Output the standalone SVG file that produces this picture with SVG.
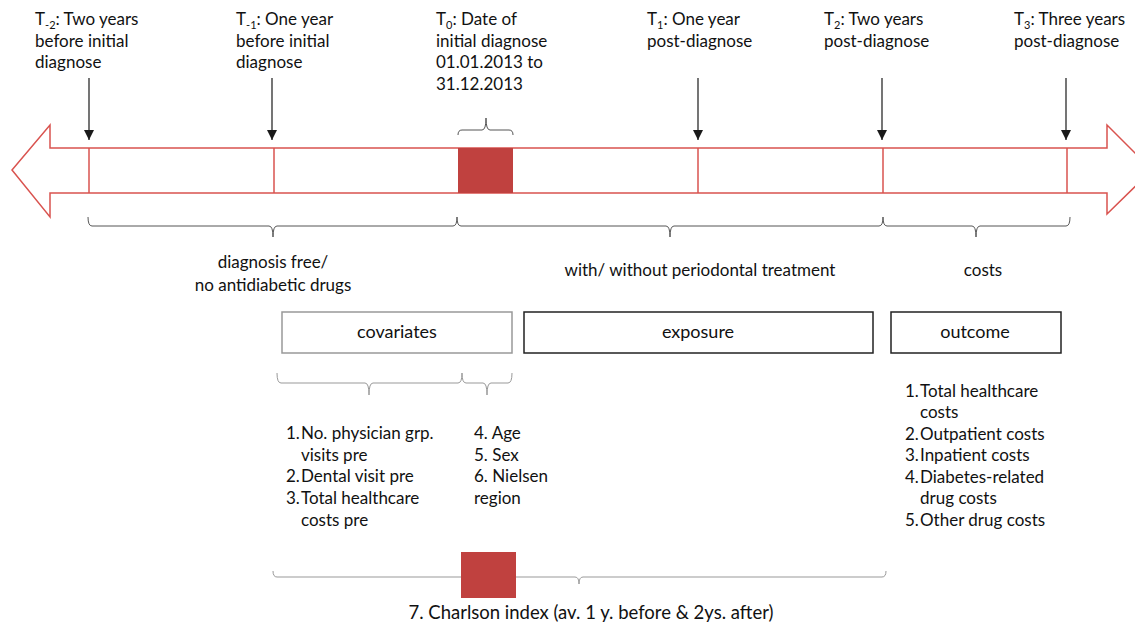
<svg xmlns="http://www.w3.org/2000/svg" width="1135" height="625" viewBox="0 0 1135 625">
<style>
text{font-family:Lato,"Open Sans","Liberation Sans",sans-serif;font-size:17px;fill:#111}
.mid{text-anchor:middle}
.big{font-size:18px}
.sub{font-size:11px}
.tl{fill:none;stroke:#d9534f;stroke-width:1.5}
.tick{stroke:#d9534f;stroke-width:1.5}
.red{fill:#c0413f}
.ptr{stroke:#1a1a1a;stroke-width:1.2;fill:none}
.brace{fill:none;stroke:#555;stroke-width:1}
.lbrace{fill:none;stroke:#999;stroke-width:1}
.box{fill:#fff;stroke:#222;stroke-width:1.5}
.gbox{fill:#fff;stroke:#999;stroke-width:1.5}
</style>
<defs>
<marker id="ah" viewBox="0 0 10 10" refX="10" refY="5" markerWidth="10" markerHeight="10" markerUnits="userSpaceOnUse" orient="auto">
<path d="M0,0 L10,5 L0,10 Z" fill="#1a1a1a"/>
</marker>
</defs>
<rect width="1135" height="625" fill="#fff"/>

<g id="timeline">
<path class="tl" d="M12,170 L50,125 L50,148 L1107,148 L1107,125 L1152,170 L1107,214 L1107,193 L50,193 L50,217 Z"/>
<line class="tick" x1="89" y1="148" x2="89" y2="193"/>
<line class="tick" x1="274" y1="148" x2="274" y2="193"/>
<line class="tick" x1="698" y1="148" x2="698" y2="193"/>
<line class="tick" x1="883" y1="148" x2="883" y2="193"/>
<line class="tick" x1="1067" y1="148" x2="1067" y2="193"/>
<rect class="red" x="458" y="148" width="55" height="45"/>
</g>

<g id="connectors">
<line class="ptr" x1="89" y1="78" x2="89" y2="140" marker-end="url(#ah)"/>
<line class="ptr" x1="272" y1="78" x2="272" y2="140" marker-end="url(#ah)"/>
<line class="ptr" x1="698" y1="78" x2="698" y2="140" marker-end="url(#ah)"/>
<line class="ptr" x1="882" y1="78" x2="882" y2="140" marker-end="url(#ah)"/>
<line class="ptr" x1="1066" y1="78" x2="1066" y2="140" marker-end="url(#ah)"/>
<path class="brace" d="M458,135 Q458,130 462,130 L482,130 Q486,130 486,118 Q486,130 490,130 L509,130 Q513,130 513,135"/>
<path class="brace" d="M88,217 Q88,226 92,226 L269,226 Q273,226 273,237 Q273,226 277,226 L453,226 Q457,226 457,217"/>
<path class="brace" d="M457,217 Q457,226 461,226 L666,226 Q670,226 670,237 Q670,226 674,226 L879,226 Q883,226 883,217"/>
<path class="brace" d="M883,217 Q883,226 887,226 L972,226 Q976,226 976,237 Q976,226 980,226 L1066,226 Q1070,226 1070,217"/>
<path class="lbrace" d="M277,373 Q277,383 281,383 L365,383 Q369,383 369,395 Q369,383 373,383 L458,383 Q462,383 462,373"/>
<path class="lbrace" d="M462,373 Q462,383 466,383 L483,383 Q487,383 487,395 Q487,383 491,383 L508,383 Q512,383 512,373"/>
<path class="lbrace" d="M273,571 Q273,577 277,577 L575,577 Q579,577 579,584 Q579,577 583,577 L882,577 Q886,577 886,571"/>
</g>

<g id="t-2">
<text x="35" y="25">T<tspan class="sub" dy="4">-2</tspan><tspan dy="-4">: Two years</tspan></text>
<text x="35" y="47">before initial</text>
<text x="35" y="68">diagnose</text>
</g>
<g id="t-1">
<text x="236" y="25">T<tspan class="sub" dy="4">-1</tspan><tspan dy="-4">: One year</tspan></text>
<text x="236" y="47">before initial</text>
<text x="236" y="68">diagnose</text>
</g>
<g id="t0">
<text x="436" y="25">T<tspan class="sub" dy="4">0</tspan><tspan dy="-4">: Date of</tspan></text>
<text x="436" y="47">initial diagnose</text>
<text x="436" y="68">01.01.2013 to</text>
<text x="436" y="90">31.12.2013</text>
</g>
<g id="t1">
<text x="647" y="25">T<tspan class="sub" dy="4">1</tspan><tspan dy="-4">: One year</tspan></text>
<text x="647" y="47">post-diagnose</text>
</g>
<g id="t2">
<text x="824" y="25">T<tspan class="sub" dy="4">2</tspan><tspan dy="-4">: Two years</tspan></text>
<text x="824" y="47">post-diagnose</text>
</g>
<g id="t3">
<text x="1014" y="25">T<tspan class="sub" dy="4">3</tspan><tspan dy="-4">: Three years</tspan></text>
<text x="1014" y="47">post-diagnose</text>
</g>

<g id="period-free">
<text class="mid" x="273" y="268">diagnosis free/</text>
<text class="mid" x="273" y="291">no antidiabetic drugs</text>
</g>
<g id="period-exposure">
<text class="mid" x="700" y="276">with/ without periodontal treatment</text>
</g>
<g id="period-costs">
<text class="mid" x="983" y="276">costs</text>
</g>

<g id="covariates">
<rect class="gbox" x="282" y="312" width="230" height="41"/>
<text class="mid big" x="397" y="338">covariates</text>
</g>
<g id="exposure">
<rect class="box" x="524" y="312" width="349" height="41"/>
<text class="mid big" x="698" y="338">exposure</text>
</g>
<g id="outcome">
<rect class="box" x="891" y="312" width="170" height="41"/>
<text class="mid big" x="975" y="338">outcome</text>
</g>

<g id="covariate-list">
<text x="286" y="439">1.</text><text x="301" y="439">No. physician grp.</text>
<text x="301" y="461">visits pre</text>
<text x="286" y="482">2.</text><text x="301" y="482">Dental visit pre</text>
<text x="286" y="504">3.</text><text x="301" y="504">Total healthcare</text>
<text x="301" y="526">costs pre</text>
</g>
<g id="demographic-list">
<text x="474" y="439">4. Age</text>
<text x="474" y="461">5. Sex</text>
<text x="474" y="482">6. Nielsen</text>
<text x="474" y="504">region</text>
</g>
<g id="outcome-list">
<text x="905" y="397">1.</text><text x="920" y="397">Total healthcare</text>
<text x="920" y="418">costs</text>
<text x="905" y="440">2.</text><text x="920" y="440">Outpatient costs</text>
<text x="905" y="461">3.</text><text x="920" y="461">Inpatient costs</text>
<text x="905" y="483">4.</text><text x="920" y="483">Diabetes-related</text>
<text x="920" y="504">drug costs</text>
<text x="905" y="526">5.</text><text x="920" y="526">Other drug costs</text>
</g>

<g id="charlson">
<rect class="red" x="461" y="552" width="55" height="46"/>
<text class="mid" style="font-size:18.5px" x="591" y="619">7. Charlson index (av. 1 y. before &amp; 2ys. after)</text>
</g>
</svg>
